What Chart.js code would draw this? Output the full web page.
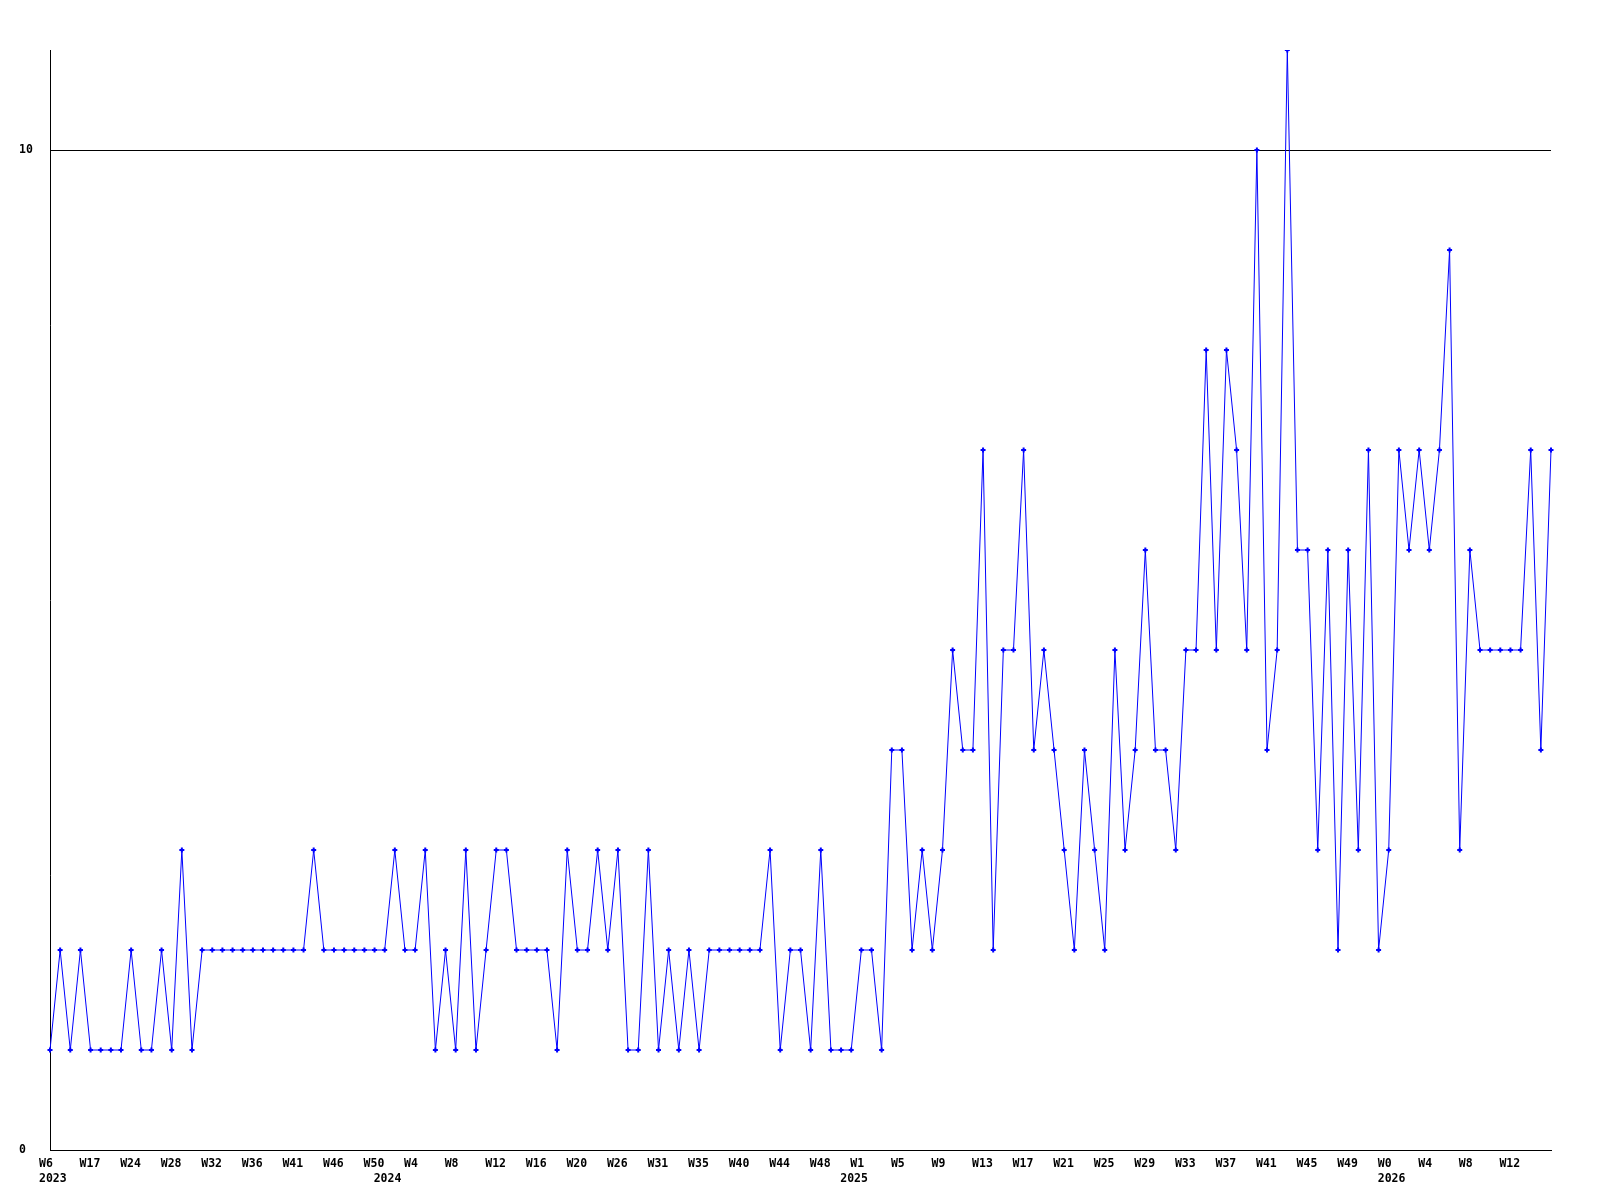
<!DOCTYPE html>
<html lang="en">
<head>
    <meta charset="UTF-8">
    <title>Weekly Counts</title>
    <script src="https://cdn.jsdelivr.net/npm/chart.js"></script>
    <style>
        body { margin: 0; background: #fff; }
        #wrap { width: 1600px; height: 1200px; }
    </style>
</head>
<body>
    <div id="wrap"><canvas id="weekChart"></canvas></div>

    <script>
        // one value per week, left to right
        var counts = [
            1, 2, 1, 2, 1, 1, 1, 1, 2, 1, 1, 2, 1, 3, 1, 2, 2, 2, 2, 2,
            2, 2, 2, 2, 2, 2, 3, 2, 2, 2, 2, 2, 2, 2, 3, 2, 2, 3, 1, 2,
            1, 3, 1, 2, 3, 3, 2, 2, 2, 2, 1, 3, 2, 2, 3, 2, 3, 1, 1, 3,
            1, 2, 1, 2, 1, 2, 2, 2, 2, 2, 2, 3, 1, 2, 2, 1, 3, 1, 1, 1,
            2, 2, 1, 4, 4, 2, 3, 2, 3, 5, 4, 4, 7, 2, 5, 5, 7, 4, 5, 4,
            3, 2, 4, 3, 2, 5, 3, 4, 6, 4, 4, 3, 5, 5, 8, 5, 8, 7, 5, 10,
            4, 5, 11, 6, 6, 3, 6, 2, 6, 3, 7, 2, 3, 7, 6, 7, 6, 7, 9, 3,
            6, 5, 5, 5, 5, 5, 7, 4, 7
        ];

        // week tick labels, one every 4th point
        var weekTicks = [
            'W6', 'W17', 'W24', 'W28', 'W32', 'W36', 'W41', 'W46', 'W50', 'W4',
            'W8', 'W12', 'W16', 'W20', 'W26', 'W31', 'W35', 'W40', 'W44', 'W48',
            'W1', 'W5', 'W9', 'W13', 'W17', 'W21', 'W25', 'W29', 'W33', 'W37',
            'W41', 'W45', 'W49', 'W0', 'W4', 'W8', 'W12'
        ];
        var tickEvery = 4;

        // year labels and the point where each year starts
        var years = ['2023', '2024', '2025', '2026'];
        var yearStart = [0, 33, 79, 132];

        var yTicks = [0, 10];

        // two-line tick text per point: week on top, year underneath
        var tickText = counts.map(function(v, i) {
            var week = i % tickEvery === 0 ? (weekTicks[i / tickEvery] || '') : '';
            var k = yearStart.indexOf(i);
            var year = k >= 0 ? years[k] : '';
            if (!week && !year) return '';
            return [week, year];
        });
        var labels = counts.map(function(v, i) { return String(i); });

        Chart.defaults.font.family = "'DejaVu Sans Mono', monospace";
        Chart.defaults.font.size = 11.5;
        Chart.defaults.font.weight = 'bold';
        Chart.defaults.color = '#000';

        var ctx = document.getElementById('weekChart').getContext('2d');
        var chart = new Chart(ctx, {
            type: 'line',
            data: {
                labels: labels,
                datasets: [{
                    data: counts,
                    borderColor: '#0000ff',
                    backgroundColor: '#0000ff',
                    borderWidth: 1,
                    tension: 0,
                    pointStyle: 'cross',
                    pointRadius: 2.5,
                    pointBorderWidth: 2,
                    pointBorderColor: '#0000ff'
                }]
            },
            options: {
                responsive: true,
                maintainAspectRatio: false,
                animation: false,
                devicePixelRatio: 1,
                layout: {
                    padding: { left: 19, top: 50, right: 49, bottom: 0 }
                },
                plugins: {
                    legend: { display: false },
                    tooltip: { enabled: false }
                },
                scales: {
                    x: {
                        type: 'category',
                        offset: false,
                        grid: { display: false },
                        border: { display: true, color: '#000', width: 1 },
                        ticks: {
                            autoSkip: false,
                            maxRotation: 0,
                            minRotation: 0,
                            align: 'start',
                            labelOffset: -11,
                            padding: -2,
                            font: { lineHeight: 15.5 / 11.5 },
                            callback: function(value, index) {
                                return tickText[index];
                            }
                        },
                        afterFit: function(axis) { axis.height = 50; }
                    },
                    y: {
                        min: 0,
                        max: 11,
                        afterBuildTicks: function(axis) {
                            axis.ticks = yTicks.map(function(v) { return { value: v }; });
                        },
                        grid: { color: '#000', lineWidth: 1, drawTicks: false },
                        border: { display: true, color: '#000', width: 1 },
                        ticks: { crossAlign: 'far', padding: 0 },
                        afterFit: function(axis) { axis.width = 31; }
                    }
                }
            }
        });
    </script>
</body>
</html>
